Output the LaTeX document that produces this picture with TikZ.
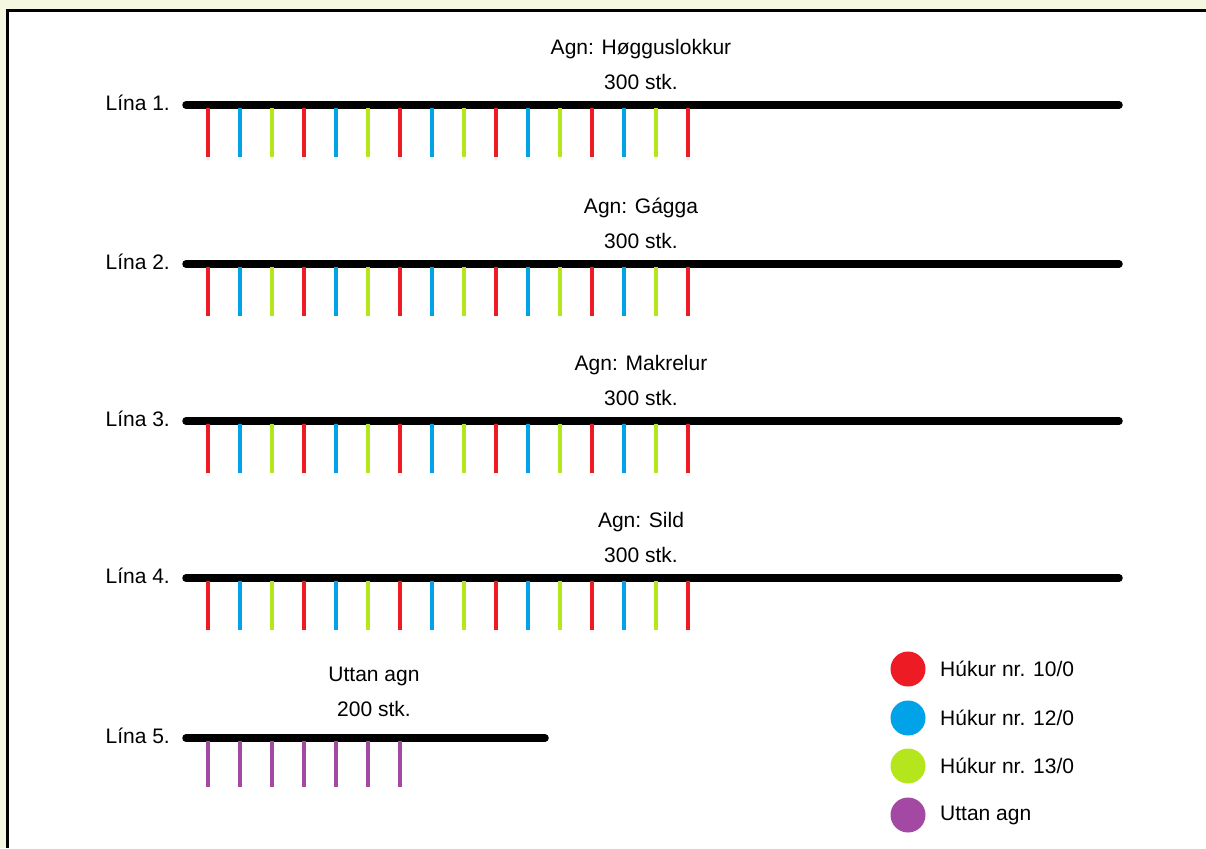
\documentclass[tikz,border=0pt]{standalone}
\usepackage{fontspec}
\setmainfont{Liberation Sans}
\definecolor{bgy}{HTML}{F5F7E1}
\definecolor{hred}{HTML}{ED1C24}
\definecolor{hblue}{HTML}{00A2E8}
\definecolor{hgreen}{HTML}{B5E61D}
\definecolor{hpurple}{HTML}{A349A4}
\begin{document}
\begin{tikzpicture}[x=1pt,y=-1pt,
  txt/.style={font=\fontsize{21}{25}\selectfont, inner sep=0pt},
  mainline/.style={line width=7.5pt, line cap=round, black},
  hook/.style={line width=4.5pt},
  dot/.style={circle, minimum size=35pt, inner sep=0pt}]
\useasboundingbox (0,0) rectangle (1206,848);
\fill[bgy] (0,0) rectangle (1206,848);
\fill[white] (7,11) rectangle (1206,848);
\draw[line width=3pt] (7,848) -- (7,11) -- (1206,11);
% lines 1-4
\foreach \n/\y/\agn in {1/105/{Agn: Høgguslokkur},2/264/{Agn: Gágga},3/421/{Agn: Makrelur},4/578/{Agn: Sild}}{
  \coordinate (s\n) at (186,\y);
  \coordinate (e\n) at (1119,\y);
  \draw[mainline] (s\n) -- (e\n);
  \node[txt, anchor=east] (l\n) at (170,\y-2) {Lína \n.};
  \node[txt] (a\n) at (641,\y-56) {\agn};
  \node[txt] (c\n) at (641,\y-23) {300 stk.};
  \foreach \i in {0,...,15}{
    \pgfmathtruncatemacro{\m}{mod(\i,3)}
    \ifcase\m \def\hc{hred}\or \def\hc{hblue}\or \def\hc{hgreen}\fi
    \coordinate (h\n-\i) at (208+32*\i,\y+3);
    \coordinate (t\n-\i) at (208+32*\i,\y+52);
    \draw[hook, draw=\hc] (h\n-\i) -- (t\n-\i);
  }
}
% line 5
\coordinate (s5) at (186,738);
\coordinate (e5) at (545,738);
\draw[mainline] (s5) -- (e5);
\node[txt, anchor=east] (l5) at (170,736) {Lína 5.};
\node[txt] (a5) at (374,676) {Uttan agn};
\node[txt] (c5) at (374,709) {200 stk.};
\foreach \i in {0,...,6}{
  \coordinate (h5-\i) at (208+32*\i,741);
  \coordinate (t5-\i) at (208+32*\i,787);
  \draw[hook, draw=hpurple] (h5-\i) -- (t5-\i);
}
% legend
\node[dot, fill=hred] (d1) at (908,669) {};
\node[txt, anchor=west] (k1) at (940,669) {Húkur nr. 10/0};
\node[dot, fill=hblue] (d2) at (908,718) {};
\node[txt, anchor=west] (k2) at (940,718) {Húkur nr. 12/0};
\node[dot, fill=hgreen] (d3) at (908,766) {};
\node[txt, anchor=west] (k3) at (940,766) {Húkur nr. 13/0};
\node[dot, fill=hpurple] (d4) at (908,815) {};
\node[txt, anchor=west] (k4) at (940,815) {Uttan agn};
\end{tikzpicture}
\end{document}
